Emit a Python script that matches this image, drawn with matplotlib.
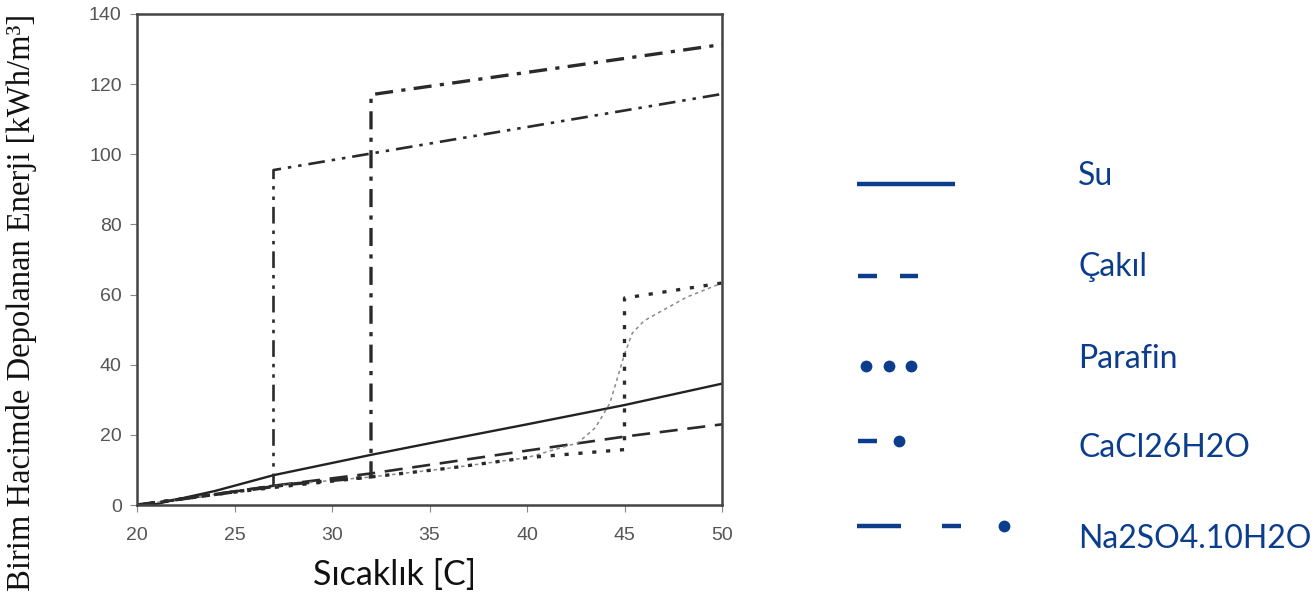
import matplotlib.pyplot as plt
from matplotlib.lines import Line2D

plt.rcParams['lines.scale_dashes'] = False

# data
su_x = [20, 21, 24, 27, 32, 35, 40, 45, 50]
su_y = [0, 0.3, 4, 8.5, 14.3, 17.6, 23, 28.5, 34.6]

cakil_x = [20, 22, 27, 32, 40, 45, 50]
cakil_y = [0, 1.5, 5.5, 9, 15.5, 19.5, 23]

parafin_x = [20, 24, 28, 32, 36, 40, 42.6, 43.5, 44.25, 45, 45.4, 46, 46.7, 48.2, 50]
parafin_y = [0, 3, 6, 8, 10.5, 13.5, 17.7, 22, 29, 43, 49, 52.5, 54.7, 59.3, 63.3]

cacl_x = [20, 24, 27, 32, 36, 40, 45, 45, 50]
cacl_y = [0, 3, 5, 8, 10.5, 13.5, 15.8, 59, 63.3]

na_x = [20, 24, 28, 32, 32, 50]
na_y = [0, 3, 6, 8, 117, 131.3]

m27_x = [20, 24, 27, 27, 50]
m27_y = [0, 3, 5.5, 95.5, 117.2]

xticks = [20, 25, 30, 35, 40, 45, 50]
yticks = [0, 20, 40, 60, 80, 100, 120, 140]

legend_labels = ['Su', 'Çakıl', 'Parafin', 'CaCl26H2O', 'Na2SO4.10H2O']

W, H = 1316, 599
fig = plt.figure(figsize=(W / 100, H / 100), dpi=100)
ax = fig.add_axes([137 / W, 1 - 505 / H, 585 / W, 491 / H])

ax.plot(su_x, su_y, color='#222222', lw=1.7)
ax.plot(cakil_x, cakil_y, color='#2a2a2a', lw=1.9, dashes=(13, 7))
ax.plot(parafin_x, parafin_y, color='#8a8a8a', lw=1.1, dashes=(2.5, 2.5))
ax.plot(cacl_x, cacl_y, color='#2a2a2a', lw=2.4, dashes=(3, 7))
ax.plot(na_x, na_y, color='#2a2a2a', lw=2.4, dashes=(13, 6, 3, 6))
ax.plot(m27_x, m27_y, color='#2a2a2a', lw=1.9, dashes=(12, 5, 2.5, 5, 2.5, 5))

ax.set_xlim(20, 50)
ax.set_ylim(0, 140)
ax.set_xticks(xticks)
ax.set_yticks(yticks)
for s in ax.spines.values():
    s.set_color('#444444')
    s.set_linewidth(1.8)
ax.tick_params(direction='out', length=5, width=0.8, color='#888888',
               labelcolor='#555555', labelsize=14)
ax.tick_params(axis='x', pad=11)
ax.tick_params(axis='y', pad=6)
for lab in ax.get_xticklabels() + ax.get_yticklabels():
    lab.set_fontfamily('Liberation Sans')

fig.text(22 / W, 1 - 302 / H, 'Birim Hacimde Depolanan Enerji [kWh/m³]',
         rotation=90, ha='center', va='center', fontsize=23.5,
         family='Liberation Serif', color='#111111')
fig.text(395 / W, 1 - 575 / H, 'Sıcaklık [C]', ha='center', va='center',
         fontsize=24.5, family='Lato', color='#111111')

# custom legend on the right, drawn in pixel space
lg = fig.add_axes([0, 0, 1, 1])
lg.set_xlim(0, W)
lg.set_ylim(H, 0)
lg.axis('off')

blue = '#0b3d8c'
sample_y = [184, 276, 366, 441, 526]
label_base = [185, 276, 368, 457, 548]
samples = [
    [('seg', 857, 955)],
    [('seg', 858, 877), ('seg', 900, 918)],
    [('dot', 866), ('dot', 889), ('dot', 911)],
    [('seg', 858, 877), ('dot', 899)],
    [('seg', 857, 901), ('seg', 942, 961), ('dot', 1004)],
]
for i, label in enumerate(legend_labels):
    y = sample_y[i]
    for part in samples[i]:
        if part[0] == 'seg':
            lg.add_line(Line2D([part[1], part[2]], [y, y], color=blue,
                               lw=3.2, solid_capstyle='butt'))
        else:
            lg.plot([part[1]], [y], 'o', color=blue, ms=8.5, mew=0)
    lg.text(1078, label_base[i], label, ha='left', va='baseline',
            fontsize=23, family='Lato', color=blue)

fig.savefig('out.png', dpi=100, facecolor='white')
